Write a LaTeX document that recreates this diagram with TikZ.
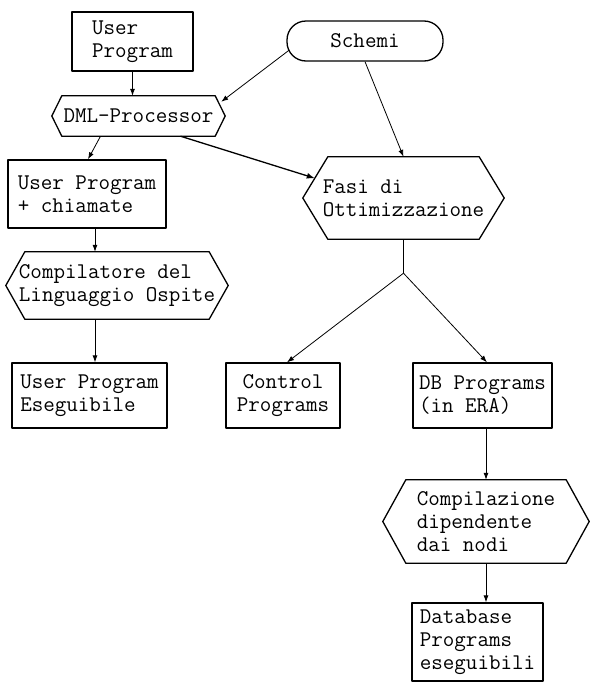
\documentclass[tikz,border=0pt]{standalone}
\usepackage{fontspec}
\usetikzlibrary{calc,arrows.meta}
\newcommand\hexframe[2]{\draw[outl] ([xshift=#2]#1.north west) -- ([xshift=-#2]#1.north east) -- (#1.east) -- ([xshift=-#2]#1.south east) -- ([xshift=#2]#1.south west) -- (#1.west) -- cycle;}
\begin{document}
\begin{tikzpicture}[x=1pt,y=-1pt,
  outl/.style={line width=1.3pt, line join=round},
  txt/.style={font=\ttfamily\fontsize{22.4}{23}\selectfont, inner sep=0pt, align=left},
  boxn/.style 2 args={txt, draw, outl, minimum width=#1, minimum height=#2},
  hexn/.style 2 args={txt, minimum width=#1, minimum height=#2},
  arr/.style={line width=0.8pt, -{Latex[length=7pt,width=5pt]}},
  arrb/.style={line width=1.3pt, -{Latex[length=8pt,width=6pt]}}]
\useasboundingbox (0,0) rectangle (590,683);
% nodes
\node[boxn={121}{59}] (up1) at (132.5,41.5) {User\\Program};
\node[txt, draw, outl, rounded corners=19pt, minimum width=156, minimum height=40, align=center] (schemi) at (365,41) {Schemi};
\node[hexn={173}{40}] (dml) at (138.5,116) {DML-Processor};
\hexframe{dml}{10pt}
\node[boxn={158}{68}] (upc) at (87,194) {User Program\\+ chiamate};
\node[hexn={201}{82}] (fasi) at (403.5,198) {Fasi di\\Ottimizzazione};
\hexframe{fasi}{25pt}
\node[hexn={222}{67}] (comp) at (117,285.5) {Compilatore del\\Linguaggio Ospite};
\hexframe{comp}{19pt}
\node[boxn={155}{65}] (upe) at (89.5,395.5) {User Program\\Eseguibile};
\node[boxn={114}{65}, align=center] (ctrl) at (283,395.5) {Control\\Programs};
\node[boxn={139}{65}] (db) at (482.5,395.5) {DB Programs\\(in ERA)};
\node[hexn={206}{83}] (compz) at (486,521.5) {Compilazione\\dipendente\\dai nodi};
\hexframe{compz}{23pt}
\node[boxn={131}{78}] (dbe) at (477.5,642) {Database\\Programs\\eseguibili};
\coordinate (junc) at ($(fasi.south)+(0,34)$);
% connectors
\draw[arr] (up1.south) -- (up1.south |- dml.north);
\draw[arr] ($(schemi.west)+(3,9)$) -- ($(dml.north east)+(-4,6)$);
\draw[arr] (schemi.south) -- (fasi.north);
\draw[arr] ($(dml.south)+(-38,0)$) -- ($(upc.north)+(1,0)$);
\draw[arrb] ($(dml.south)+(42,0)$) -- ($([xshift=25pt]fasi.north west)!0.52!(fasi.west)$);
\draw[arr] ($(upc.south)+(8,0)$) -- ($(comp.north)+(-22,0)$);
\draw[arr] ($(comp.south)+(-22,0)$) -- ($(upe.north)+(5.5,0)$);
\draw[line width=0.8pt] (fasi.south) -- (junc);
\draw[arr] (junc) -- ($(ctrl.north)+(4,0)$);
\draw[arr] (junc) -- ($(db.north)+(4.5,0)$);
\draw[arr] (compz.north |- db.south) -- (compz.north);
\draw[arr] (compz.south) -- (compz.south |- dbe.north);
\end{tikzpicture}
\end{document}
